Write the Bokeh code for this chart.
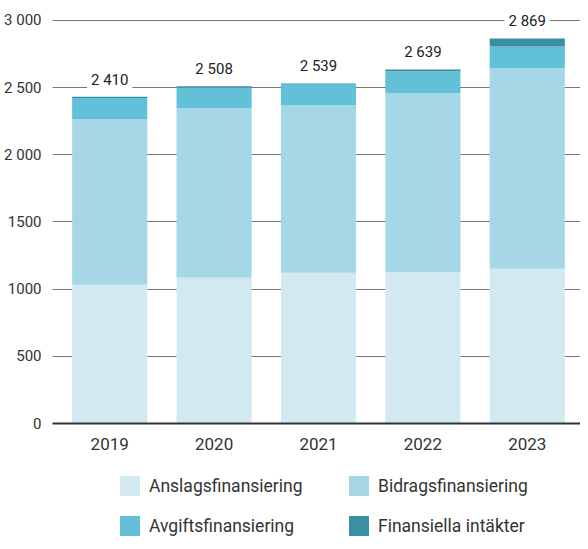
from bokeh.plotting import figure
from bokeh.layouts import column
from bokeh.models import ColumnDataSource, Range1d, FixedTicker, Legend, LegendItem
from bokeh.core.properties import value
from bokeh.embed import file_html
from bokeh.resources import INLINE

years = ["2019", "2020", "2021", "2022", "2023"]
anslag = [1032, 1084, 1121, 1128, 1151]
bidrag = [1232, 1262, 1247, 1329, 1492]
avgift = [158, 155, 163, 164, 163]
finans = [9, 8, 2, 14, 60]
total_labels = ["2 410", "2 508", "2 539", "2 639", "2 869"]
series_names = ["Anslagsfinansiering", "Bidragsfinansiering", "Avgiftsfinansiering", "Finansiella intäkter"]
colors = ["#d3e9f2", "#a6d7e6", "#62c0d8", "#3a90a1"]
y_ticks = [0, 500, 1000, 1500, 2000, 2500, 3000]
y_tick_labels = ["0", "500", "1000", "1500", "2 000", "2 500", "3 000"]

FONT = "Roboto"
xs = list(range(len(years)))
tops = [a + b + c + d for a, b, c, d in zip(anslag, bidrag, avgift, finans)]
stackers = ["anslag", "bidrag", "avgift", "finans"]

source = ColumnDataSource(data=dict(x=xs, anslag=anslag, bidrag=bidrag, avgift=avgift, finans=finans))
lab_src = ColumnDataSource(data=dict(x=xs, y=tops, t=total_labels))

FRAME_LEFT = 52

p = figure(width=580, height=452, output_backend="svg", toolbar_location=None,
           x_range=Range1d(-0.548, 4.51), y_range=Range1d(0, 3148),
           min_border_left=FRAME_LEFT, min_border_right=0, min_border_top=0, min_border_bottom=28)
p.outline_line_color = None
p.background_fill_color = "white"
p.border_fill_color = "white"

renderers = p.vbar_stack(stackers, x="x", width=0.72, color=colors, line_color=None, source=source)

p.text(x="x", y="y", text="t", source=lab_src, y_offset=-17,
       text_align="center", text_baseline="middle", text_font=value(FONT),
       text_font_size="15px", text_color="#222", background_fill_color="white",
       padding=4)

p.xgrid.visible = False
p.ygrid.grid_line_color = "#777777"
p.ygrid.grid_line_width = 1
p.ygrid.ticker = FixedTicker(ticks=y_ticks)

ya = p.yaxis[0]
ya.ticker = FixedTicker(ticks=y_ticks)
ya.major_label_overrides = {t: l for t, l in zip(y_ticks, y_tick_labels)}
ya.axis_line_color = None
ya.major_tick_line_color = None
ya.minor_tick_line_color = None
ya.major_label_standoff = 5
ya.major_label_text_font = FONT
ya.major_label_text_font_size = "15px"
ya.major_label_text_color = "#333"

xa = p.xaxis[0]
xa.ticker = FixedTicker(ticks=xs)
xa.major_label_overrides = {i: y for i, y in zip(xs, years)}
xa.axis_line_color = "#333"
xa.axis_line_width = 2
xa.major_tick_line_color = None
xa.minor_tick_line_color = None
xa.major_label_standoff = 8
xa.major_label_text_font = FONT
xa.major_label_text_font_size = "17px"
xa.major_label_text_color = "#333"

# Legend panel below the chart (its bars lie far outside its visible range)
lg = figure(width=580, height=89, output_backend="svg", toolbar_location=None,
            x_axis_location=None, y_axis_location=None,
            x_range=Range1d(-100, -99), y_range=Range1d(-20, -10),
            min_border_left=0, min_border_right=0, min_border_top=0, min_border_bottom=0)
lg.grid.visible = False
lg.outline_line_color = None
legend_renderers = lg.vbar_stack(stackers, x="x", width=0.72, color=colors, line_color=None, source=source)
legend = Legend(items=[LegendItem(label=n, renderers=[r]) for n, r in zip(series_names, legend_renderers)],
                orientation="horizontal", ncols=2, location=(117 - FRAME_LEFT, 3),
                glyph_width=25, glyph_height=25, label_standoff=7, spacing=15, label_width=182,
                padding=0, margin=0, border_line_color=None, background_fill_alpha=0,
                label_text_font=FONT, label_text_font_size="17.5px", label_text_color="#333",
                label_height=25)
lg.add_layout(legend, "center")

layout = column(p, lg, spacing=0)
open("out.html", "w").write(file_html(layout, INLINE))
